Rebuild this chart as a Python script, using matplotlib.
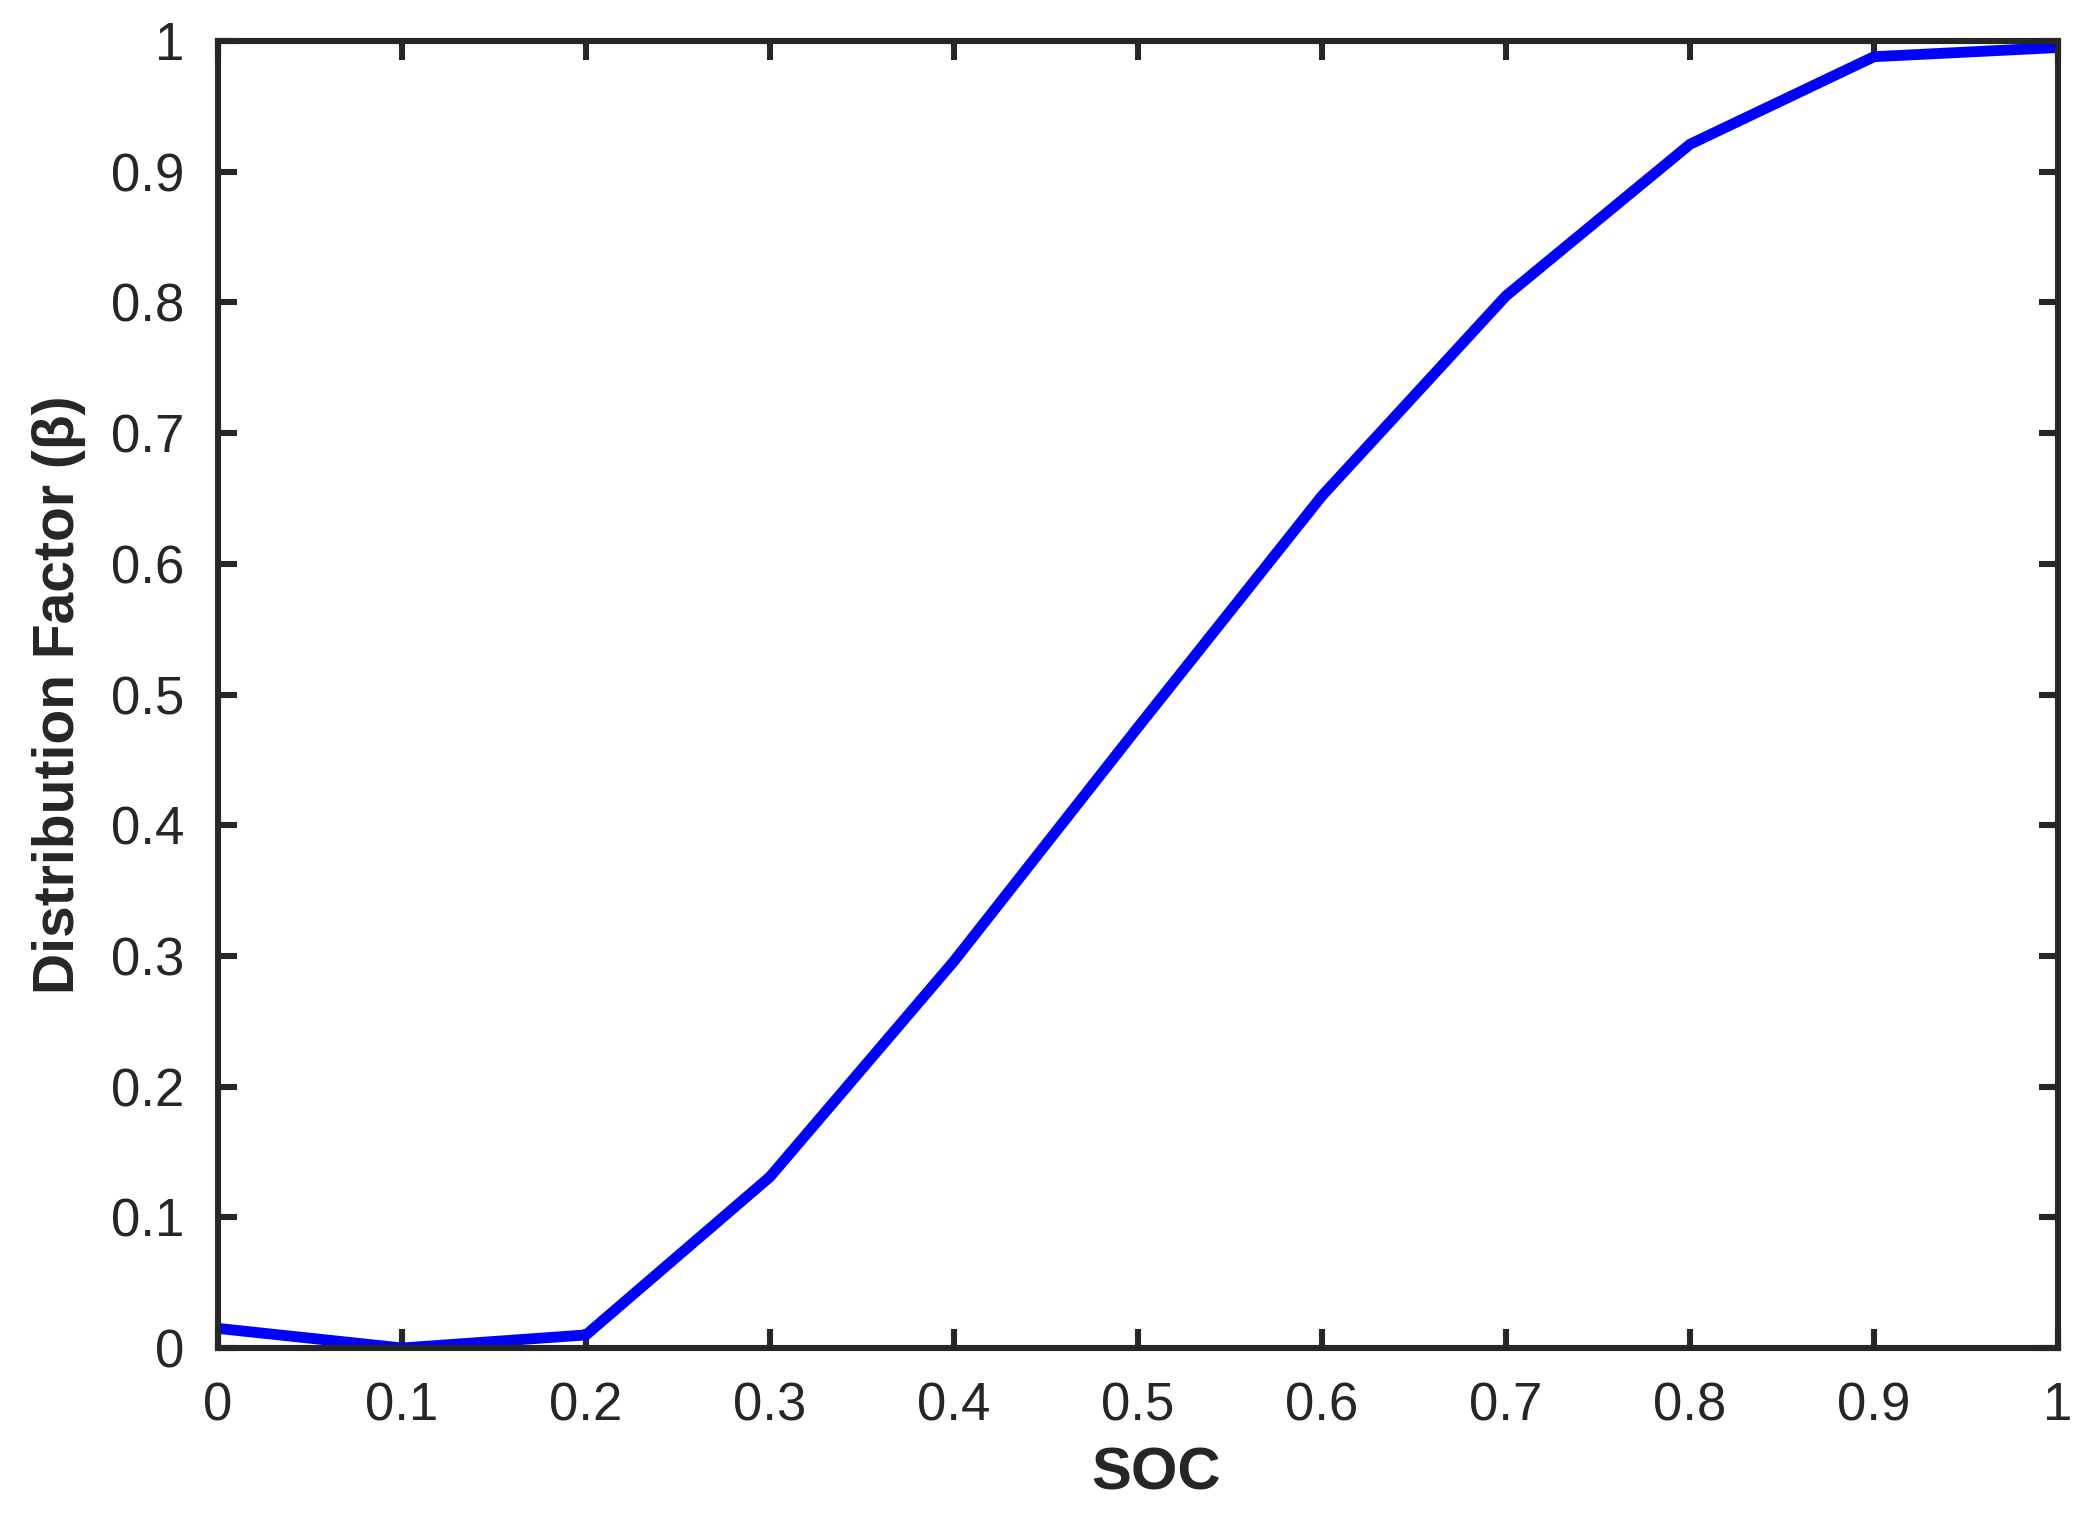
import matplotlib
matplotlib.use('Agg')
import matplotlib.pyplot as plt

soc = [0.0, 0.1, 0.2, 0.3, 0.4, 0.5, 0.6, 0.7, 0.8, 0.9, 1.0]
beta = [0.015, 0.0, 0.01, 0.131, 0.296, 0.475, 0.652, 0.805, 0.921, 0.988, 0.995]

xticks = [0, 0.1, 0.2, 0.3, 0.4, 0.5, 0.6, 0.7, 0.8, 0.9, 1]
xticklabels = ['0', '0.1', '0.2', '0.3', '0.4', '0.5', '0.6', '0.7', '0.8', '0.9', '1']
yticks = [0, 0.1, 0.2, 0.3, 0.4, 0.5, 0.6, 0.7, 0.8, 0.9, 1]
yticklabels = ['0', '0.1', '0.2', '0.3', '0.4', '0.5', '0.6', '0.7', '0.8', '0.9', '1']

plt.rcParams['font.family'] = ['Liberation Sans', 'DejaVu Sans']
dark = '#262626'

fig = plt.figure(figsize=(10.47, 7.57), dpi=200)
ax = fig.add_axes([218 / 2094, 1 - 1348 / 1514, (2058 - 218) / 2094, (1348 - 41) / 1514])

ax.plot(soc, beta, color='#0000ff', linewidth=3.9, solid_joinstyle='miter')

ax.set_xlim(0, 1)
ax.set_ylim(0, 1)
ax.set_xticks(xticks)
ax.set_xticklabels(xticklabels)
ax.set_yticks(yticks)
ax.set_yticklabels(yticklabels)

for s in ax.spines.values():
    s.set_linewidth(2.2)
    s.set_color(dark)

ax.tick_params(direction='in', length=7, width=2.2, colors=dark, labelsize=19,
               top=True, right=True, pad=12)

ax.set_xlabel('SOC', fontsize=21.5, fontweight='bold', color=dark, labelpad=7)
ax.xaxis.set_label_coords(0.51, -0.075)
ax.set_ylabel('Distribution Factor (β)', fontsize=20.5, fontweight='bold', color=dark, labelpad=9)

fig.savefig('out.png', dpi=200, facecolor='white')
